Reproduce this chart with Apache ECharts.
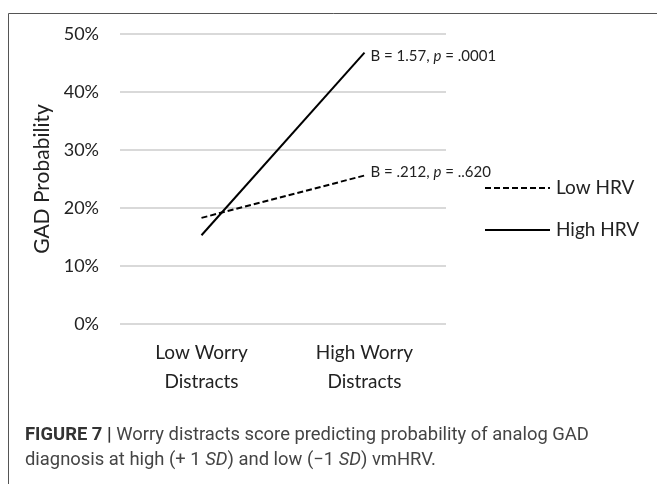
<!DOCTYPE html>
<html><head><meta charset="utf-8">
<script src="https://cdn.jsdelivr.net/npm/echarts@6/dist/echarts.min.js"></script>
<style>html,body{margin:0;padding:0;background:#fff}#c{width:657px;height:484px}</style>
</head><body><div id="c"></div>
<script>
const categories = ['Low Worry\nDistracts', 'High Worry\nDistracts'];
const lowHRV = [0.183, 0.256];
const highHRV = [0.153, 0.468];
const lowLabel = ['B = .212, ', 'p', ' = ..620'];
const highLabel = ['B = 1.57, ', 'p', ' = .0001'];
const yTicks = { min: 0, max: 0.5, interval: 0.1 };

const FONT = 'Lato, "Open Sans", sans-serif';
const CAP = '"Liberation Sans Narrow", "Roboto", sans-serif';
function endLabel(parts, dy) {
  return {
    show: true, distance: 6, offset: [0, dy],
    formatter: parts[0] + '{i|' + parts[1] + '}' + parts[2],
    fontFamily: FONT, fontSize: 15, color: '#222',
    rich: { i: { fontStyle: 'italic', fontFamily: FONT, fontSize: 15, color: '#222' } }
  };
}
const chart = echarts.init(document.getElementById('c'), null, { renderer: 'canvas' });
chart.setOption({
  animation: false,
  backgroundColor: '#fff',
  grid: { left: 120, right: 211, top: 34, bottom: 160 },
  legend: {
    orient: 'vertical', left: 484, top: 178.5, itemGap: 23, padding: 0,
    itemWidth: 65, itemHeight: 16,
    itemStyle: { color: 'transparent', borderWidth: 0, opacity: 0 },
    textStyle: { fontFamily: FONT, fontSize: 19, color: '#222', padding: [0,0,0,1] },
    data: ['Low HRV', 'High HRV']
  },
  xAxis: {
    type: 'category', data: categories, boundaryGap: true,
    axisLine: { show: false }, axisTick: { show: false },
    axisLabel: { fontFamily: FONT, fontSize: 19, color: '#222', lineHeight: 29, margin: 14 }
  },
  yAxis: {
    type: 'value', min: yTicks.min, max: yTicks.max, interval: yTicks.interval,
    name: 'GAD Probability', nameLocation: 'middle', nameGap: 67, nameRotate: 90,
    nameTextStyle: { fontFamily: FONT, fontSize: 21, color: '#222' },
    axisLine: { show: false }, axisTick: { show: false },
    axisLabel: { fontFamily: FONT, fontSize: 18, color: '#222', margin: 21,
      formatter: v => Math.round(v * 100) + '%' },
    splitLine: { lineStyle: { color: '#d9d9d9', width: 2 } }
  },
  series: [
    { name: 'Low HRV', type: 'line', data: lowHRV, symbol: 'none', color: '#000',
      lineStyle: { color: '#000', width: 2, type: [6, 3] },
      endLabel: endLabel(lowLabel, -3) },
    { name: 'High HRV', type: 'line', data: highHRV, symbol: 'none', color: '#000',
      lineStyle: { color: '#000', width: 2, type: 'solid' },
      endLabel: endLabel(highLabel, 4) }
  ],
  graphic: [
    { type: 'rect', shape: { x: 8.5, y: 13.5, width: 700, height: 500 },
      style: { fill: null, stroke: '#555', lineWidth: 1 }, silent: true },
    { type: 'text', left: 25, top: 426,
      style: { text: '{b|FIGURE 7 |} Worry distracts score predicting probability of analog GAD',
        fontFamily: CAP, fontSize: 18.4, fill: '#444',
        rich: { b: { fontWeight: 'bold', fontFamily: CAP, fontSize: 18.4, fill: '#333' } } } },
    { type: 'text', left: 25, top: 451,
      style: { text: 'diagnosis at high (+ 1 {i|SD}) and low (\u22121 {i|SD}) vmHRV.',
        fontFamily: CAP, fontSize: 18.4, fill: '#444',
        rich: { i: { fontStyle: 'italic', fontFamily: CAP, fontSize: 18.4, fill: '#444' } } } }
  ]
});
</script></body></html>
